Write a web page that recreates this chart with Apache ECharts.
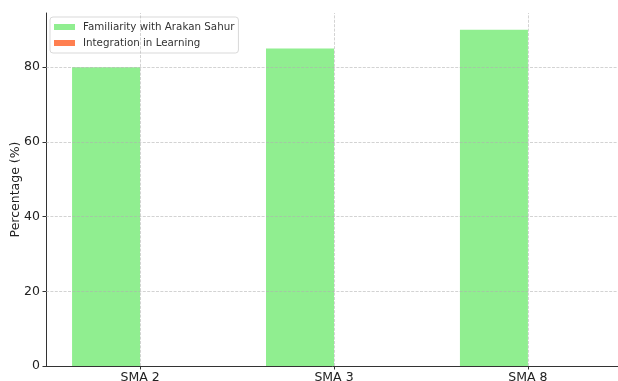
<!DOCTYPE html>
<html>
<head>
<meta charset="utf-8">
<script src="https://cdn.jsdelivr.net/npm/echarts@6/dist/echarts.min.js"></script>
<style>
  html, body { margin: 0; padding: 0; background: #fff; }
  #chart { width: 618px; height: 381px; }
</style>
</head>
<body>
<div id="chart"></div>
<script>
// Schools surveyed
const categories = ['SMA 2', 'SMA 3', 'SMA 8'];
// Share of students (%) per school
const familiarity = [80, 85, 90];
const integration = [0, 0, 0];
// Y-axis tick values
const yTicks = [0, 20, 40, 60, 80];

const seriesNames = ['Familiarity with Arakan Sahur', 'Integration in Learning'];
const xIdx = categories.map((_, i) => i);

const gridLine = {
  color: '#b0b0b0',
  opacity: 0.7,
  width: 0.8,
  type: [3, 1.4]
};

const chart = echarts.init(document.getElementById('chart'), null, { renderer: 'canvas' });

chart.setOption({
  animation: false,
  backgroundColor: '#fff',
  textStyle: { fontFamily: 'DejaVu Sans' },
  grid: { left: 46, top: 13, width: 576, height: 353, containLabel: false, outerBoundsMode: 'none' },
  legend: {
    orient: 'vertical',
    left: 50,
    top: 17,
    data: seriesNames,
    itemWidth: 21,
    itemHeight: 6,
    itemGap: 4,
    padding: [4, 4, 4, 4],
    borderColor: '#d9d9d9',
    borderWidth: 1,
    borderRadius: 3,
    backgroundColor: 'rgba(255,255,255,0.8)',
    textStyle: {
      fontSize: 10.3,
      lineHeight: 12,
      color: '#333',
      fontFamily: 'DejaVu Sans',
      padding: [0, 0, 0, 3]
    },
    icon: 'rect'
  },
  xAxis: {
    type: 'value',
    min: -0.485,
    max: 2.485,
    axisLine: { show: true, onZero: false, lineStyle: { color: '#333', width: 1 } },
    axisTick: { show: true, length: 3.5, customValues: xIdx, lineStyle: { color: '#333' } },
    axisLabel: {
      customValues: xIdx,
      formatter: v => categories[Math.round(v)],
      fontSize: 12.5,
      color: '#222',
      margin: 5
    },
    splitLine: { show: false }
  },
  yAxis: {
    type: 'value',
    min: 0,
    max: 94.5,
    name: 'Percentage (%)',
    nameLocation: 'middle',
    nameGap: 24,
    nameMoveOverlap: false,
    nameTextStyle: { fontSize: 12.5, color: '#222' },
    axisLine: { show: true, onZero: false, lineStyle: { color: '#333', width: 1 } },
    axisTick: { show: true, length: 3.5, customValues: yTicks, lineStyle: { color: '#333' } },
    axisLabel: { customValues: yTicks, fontSize: 12.5, color: '#222', margin: 6 },
    splitLine: { show: false }
  },
  series: [
    {
      name: seriesNames[0],
      type: 'bar',
      z: 2,
      barWidth: 68,
      barGap: '0%',
      itemStyle: { color: '#90EE90' },
      data: familiarity.map((v, i) => [xIdx[i], v])
    },
    {
      name: seriesNames[1],
      type: 'bar',
      z: 2,
      barWidth: 68,
      barGap: '0%',
      itemStyle: { color: '#FF7F50' },
      data: integration.map((v, i) => [xIdx[i], v])
    },
    {
      // Dashed grid drawn above the bars
      name: 'grid',
      type: 'line',
      z: 3,
      data: [],
      silent: true,
      markLine: {
        silent: true,
        symbol: 'none',
        label: { show: false },
        lineStyle: gridLine,
        data: [
          ...xIdx.map(x => ({ xAxis: x })),
          ...yTicks.filter(t => t > 0).map(t => ({ yAxis: t }))
        ]
      }
    }
  ]
});
</script>
</body>
</html>
